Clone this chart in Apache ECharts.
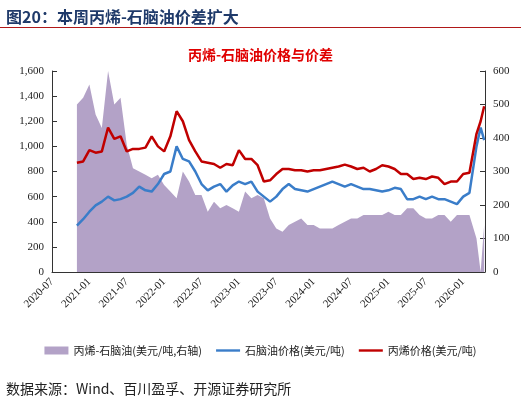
<!DOCTYPE html><html><head><meta charset="utf-8">
<script src="https://cdn.jsdelivr.net/npm/echarts@6/dist/echarts.min.js"></script>
<style>body{margin:0;background:#fff}#t{position:absolute;left:6px;top:4px;font:bold 16px 'Noto Sans CJK SC';color:#1f3a6a}#l{position:absolute;left:0;top:27px;width:521px;border-top:1.5px solid #b01818}#s{position:absolute;left:6px;top:378px;font:14px 'Noto Sans CJK SC','Liberation Serif';color:#222}#c{width:521px;height:405px}</style></head><body>
<div id="c"></div><div id="t">图20：本周丙烯-石脑油价差扩大</div><div id="l"></div><div id="s">数据来源：Wind、百川盈孚、开源证券研究所</div>
<script>
const dates=['2020-11','2020-12','2021-01','2021-02','2021-03','2021-04','2021-05','2021-06','2021-07','2021-08','2021-09','2021-10','2021-11','2021-12','2022-01','2022-02','2022-03','2022-04','2022-05','2022-06','2022-07','2022-08','2022-09','2022-10','2022-11','2022-12','2023-01','2023-02','2023-03','2023-04','2023-05','2023-06','2023-07','2023-08','2023-09','2023-10','2023-11','2023-12','2024-01','2024-02','2024-03','2024-04','2024-05','2024-06','2024-07','2024-08','2024-09','2024-10','2024-11','2024-12','2025-01','2025-02','2025-03','2025-04','2025-05','2025-06','2025-07','2025-08','2025-09','2025-10','2025-11','2025-12','2026-01','2026-02','2026-03-05','2026-03-25','2026-04-12'];
const naphtha=[370,420,480,530,560,600,570,580,600,630,680,650,640,700,780,800,1000,900,880,800,700,650,680,700,640,690,720,700,720,640,600,560,600,660,700,660,650,640,660,680,700,720,700,680,700,680,660,660,650,640,650,670,660,580,580,600,580,600,580,580,560,540,600,630,1000,1150,1050];
const propylene=[870,880,970,950,960,1150,1060,1080,960,980,980,990,1080,1000,960,1080,1280,1200,1050,960,880,870,860,830,860,850,970,900,900,850,720,730,780,820,820,810,810,800,810,810,820,830,840,855,840,820,830,800,820,850,840,820,780,780,740,750,740,760,750,700,720,720,780,790,1100,1200,1320];
const spread=[500,520,560,470,430,600,500,520,380,310,300,290,280,290,260,240,220,300,270,230,230,180,210,190,200,190,180,240,220,230,220,160,130,120,140,150,160,140,140,130,130,130,140,150,160,160,170,170,170,170,180,170,170,190,190,170,160,160,170,170,150,170,170,170,100,0,140];
const ticks=['2020-07','2021-01','2021-07','2022-01','2022-07','2023-01','2023-07','2024-01','2024-07','2025-01','2025-07','2026-01'];
function mx(s){const p=s.split('-').map(Number);return (p[0]-2020)*12+(p[1]-7)+((p[2]||1)-1)/30;}
const pts=a=>a.map((v,i)=>[mx(dates[i]),v]);
const f="Liberation Serif";
const ch=echarts.init(document.getElementById('c'));
ch.setOption({animation:false,
title:{text:'丙烯-石脑油价格与价差',left:'center',top:43,textStyle:{color:'#e00000',fontSize:14,fontWeight:'bold',fontFamily:'Noto Sans CJK SC'}},
grid:{left:52,right:36,top:71,bottom:133},
legend:{bottom:44,left:'center',itemGap:14,itemWidth:24,itemHeight:8,textStyle:{fontSize:11,fontFamily:'Noto Sans CJK SC',color:'#222'},
 data:[{name:'丙烯-石脑油(美元/吨,右轴)',icon:'rect'},{name:'石脑油价格(美元/吨)',icon:'path://M0,0H10V1H0Z'},{name:'丙烯价格(美元/吨)',icon:'path://M0,0H10V1H0Z'}]},
xAxis:{type:'value',min:0,max:69.5,interval:6,splitLine:{show:false},axisTick:{show:false},axisLine:{lineStyle:{color:'#333'}},
 axisLabel:{rotate:45,fontFamily:f,fontSize:11,color:'#222',showMaxLabel:false,formatter:v=>ticks[Math.round(v/6)]||''}},
yAxis:[{type:'value',min:0,max:1600,interval:200,splitLine:{show:false},axisLine:{show:true,lineStyle:{color:'#333'}},axisTick:{show:true,inside:true},axisLabel:{fontFamily:f,fontSize:11,color:'#222',formatter:v=>v.toLocaleString('en-US')}},
 {type:'value',min:0,max:600,interval:100,splitLine:{show:false},axisLine:{show:true,lineStyle:{color:'#333'}},axisTick:{show:true,inside:true},axisLabel:{fontFamily:f,fontSize:11,color:'#222'}}],
series:[
{name:'丙烯-石脑油(美元/吨,右轴)',type:'line',yAxisIndex:1,data:pts(spread),symbol:'none',lineStyle:{width:0},areaStyle:{color:'#b3a2c7',opacity:1},itemStyle:{color:'#b3a2c7'}},
{name:'石脑油价格(美元/吨)',type:'line',data:pts(naphtha),symbol:'none',lineStyle:{width:2.5,color:'#3a7dc9'},itemStyle:{color:'#3a7dc9'}},
{name:'丙烯价格(美元/吨)',type:'line',data:pts(propylene),symbol:'none',lineStyle:{width:2.5,color:'#c00000'},itemStyle:{color:'#c00000'}}]});
</script></body></html>
